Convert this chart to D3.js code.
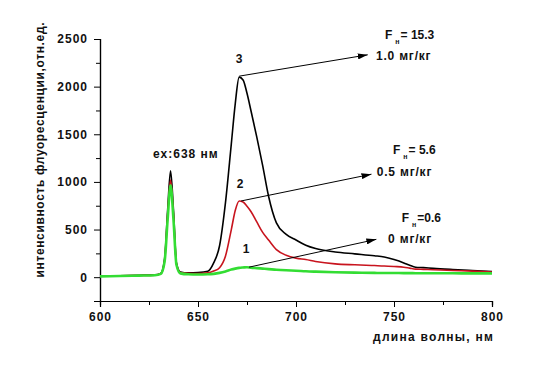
<!doctype html>
<html>
<head>
    <meta charset="utf-8">
    <title>Fluorescence spectra</title>
    <script src="https://d3js.org/d3.v7.min.js"></script>
    <style>
        body { margin: 0; background: #fff; }
        text { font-family: "Liberation Sans", Arial, sans-serif; font-weight: bold; fill: #111; }
    </style>
</head>
<body>
    <div id="chart"></div>
    <script>

        // Data

        var wavelength = [600, 610, 620, 628, 631, 633, 634.5, 636, 637.5, 639, 641, 645, 650, 655, 658, 661, 664, 667, 669, 671, 673, 675, 677, 680, 683, 686, 690, 695, 700, 705, 710, 720, 730, 740, 745, 750, 755, 758, 761, 765, 770, 780, 790, 800];

        var curve3 = [10, 15, 20, 25, 40, 200, 700, 1116, 700, 150, 55, 45, 48, 62, 150, 330, 780, 1400, 1820, 2100, 2070, 1930, 1750, 1470, 1170, 850, 570, 450, 390, 335, 300, 265, 245, 225, 212, 185, 150, 125, 105, 100, 92, 80, 70, 60];
        var curve2 = [10, 14, 18, 22, 35, 180, 650, 1020, 650, 140, 50, 40, 38, 45, 65, 100, 220, 500, 700, 800, 790, 745, 690, 580, 470, 390, 290, 230, 200, 185, 165, 140, 130, 122, 118, 112, 105, 95, 85, 82, 78, 70, 64, 55];
        var curve1 = [8, 12, 16, 20, 35, 170, 600, 965, 600, 130, 40, 30, 28, 30, 35, 45, 60, 80, 90, 98, 102, 105, 100, 95, 90, 85, 78, 72, 68, 62, 58, 52, 48, 45, 44, 44, 43, 43, 42, 42, 42, 41, 40, 40];

        var seriesColors = ["#33dd33", "#c8141e", "#000000"];
        var seriesLabels = ["1", "2", "3"];
        var fValues = ["=0.6", "= 5.6", "= 15.3"];
        var doses = ["0 мг/кг", "0.5 мг/кг", "1.0 мг/кг"];

        var xTicks = [600, 650, 700, 750, 800];
        var yTicks = [0, 500, 1000, 1500, 2000, 2500];

        // Layout

        const width = 534;
        const height = 373;
        const margin = {left: 100, top: 39, right: 42, bottom: 72};

        var svg = d3.select("#chart")
            .append("svg")
            .attr("width", width)
            .attr("height", height);

        var x = d3.scaleLinear().domain([600, 800]).range([margin.left, width - margin.right]);
        var y = d3.scaleLinear().domain([-250, 2500]).range([height - margin.bottom, margin.top]);

        // axes
        svg.append("g")
            .attr("transform", "translate(0," + (height - margin.bottom) + ")")
            .call(d3.axisBottom(x).tickValues(xTicks).tickSize(6).tickPadding(5).tickFormat(d3.format("d")));
        svg.append("g")
            .attr("transform", "translate(0," + (height - margin.bottom) + ")")
            .call(d3.axisBottom(x).tickValues([625, 675, 725, 775]).tickSize(4).tickFormat(""));

        svg.append("g")
            .attr("transform", "translate(" + margin.left + ",0)")
            .call(d3.axisLeft(y).tickValues(yTicks).tickSize(6).tickPadding(6).tickFormat(d3.format("d")));
        svg.append("g")
            .attr("transform", "translate(" + margin.left + ",0)")
            .call(d3.axisLeft(y).tickValues([-250, 250, 750, 1250, 1750, 2250]).tickSize(4).tickFormat(""));

        svg.selectAll(".domain").attr("stroke", "#000").attr("stroke-width", 1.2);
        svg.selectAll(".tick line").attr("stroke", "#000");
        svg.selectAll(".tick text")
            .style("font-size", "12px")
            .style("letter-spacing", "1px")
            .attr("fill", "#111");

        // axis titles
        svg.append("text")
            .attr("transform", "translate(44,150) rotate(-90)")
            .attr("text-anchor", "middle")
            .attr("textLength", 255)
            .attr("lengthAdjust", "spacing")
            .style("font-size", "12px")
            .text("интенсивность флуоресценции,отн.ед.");

        svg.append("text")
            .attr("x", 373)
            .attr("y", 341)
            .attr("textLength", 120)
            .attr("lengthAdjust", "spacing")
            .style("font-size", "12px")
            .text("длина волны, нм");

        // spectra
        var line = d3.line()
            .x(function(d){ return x(d[0]); })
            .y(function(d){ return y(d[1]); })
            .curve(d3.curveMonotoneX);

        var allSeries = [curve1, curve2, curve3];
        var widths = [2.6, 1.6, 1.6];

        // black first, green last (green sits on top as in the picture)
        [2, 1, 0].forEach(function(k){
            var pts = wavelength.map(function(w, i){ return [w, allSeries[k][i]]; });
            svg.append("path")
                .datum(pts)
                .attr("fill", "none")
                .attr("stroke", seriesColors[k])
                .attr("stroke-width", widths[k])
                .attr("stroke-linejoin", "round")
                .attr("d", line);
        });

        // annotations
        svg.append("defs").append("marker")
            .attr("id", "arrow")
            .attr("viewBox", "0 0 10 6")
            .attr("refX", 10)
            .attr("refY", 3)
            .attr("markerWidth", 10)
            .attr("markerHeight", 6)
            .attr("markerUnits", "userSpaceOnUse")
            .attr("orient", "auto")
            .append("path")
                .attr("d", "M0,0 L10,3 L0,6 Z")
                .attr("fill", "#000");

        // pointer start (peak of curve) and end (near the label), in data units
        var pointerFrom = [[676, 105], [672, 800], [671, 2110]];
        var pointerTo = [[741, 397], [738.5, 1081], [736.6, 2334]];
        var numberPos = [[674.5, 250], [671.5, 940], [671, 2250]];
        var fPos = [[753.9, 579], [749.5, 1293], [745.4, 2500]];
        var dosePos = [[747, 359], [741.2, 1062], [740.8, 2280]];

        svg.selectAll(".pointer")
            .data(pointerFrom)
            .enter()
            .append("line")
                .attr("x1", function(d){ return x(d[0]); })
                .attr("y1", function(d){ return y(d[1]); })
                .attr("x2", function(d, i){ return x(pointerTo[i][0]); })
                .attr("y2", function(d, i){ return y(pointerTo[i][1]); })
                .attr("stroke", "#000")
                .attr("stroke-width", 1)
                .attr("marker-end", "url(#arrow)");

        svg.selectAll(".num")
            .data(seriesLabels)
            .enter()
            .append("text")
                .attr("x", function(d, i){ return x(numberPos[i][0]); })
                .attr("y", function(d, i){ return y(numberPos[i][1]); })
                .attr("text-anchor", "middle")
                .style("font-size", "12px")
                .text(function(d){ return d; });

        var fText = svg.selectAll(".ftext")
            .data(fValues)
            .enter()
            .append("text")
                .attr("x", function(d, i){ return x(fPos[i][0]); })
                .attr("y", function(d, i){ return y(fPos[i][1]); })
                .style("font-size", "12px");
        fText.append("tspan").text("F");
        fText.append("tspan").attr("dx", 3).attr("dy", 5).style("font-size", "7px").text("н");
        fText.append("tspan").attr("dx", 1).attr("dy", -5).text(function(d){ return d; });

        svg.selectAll(".dose")
            .data(doses)
            .enter()
            .append("text")
                .attr("x", function(d, i){ return x(dosePos[i][0]); })
                .attr("y", function(d, i){ return y(dosePos[i][1]); })
                .style("font-size", "12px")
                .style("letter-spacing", "0.8px")
                .text(function(d){ return d; });

        svg.append("text")
            .attr("x", x(627))
            .attr("y", y(1250))
            .style("font-size", "12px")
            .style("letter-spacing", "1px")
            .text("ex:638 нм");

    </script>
</body>
</html>
